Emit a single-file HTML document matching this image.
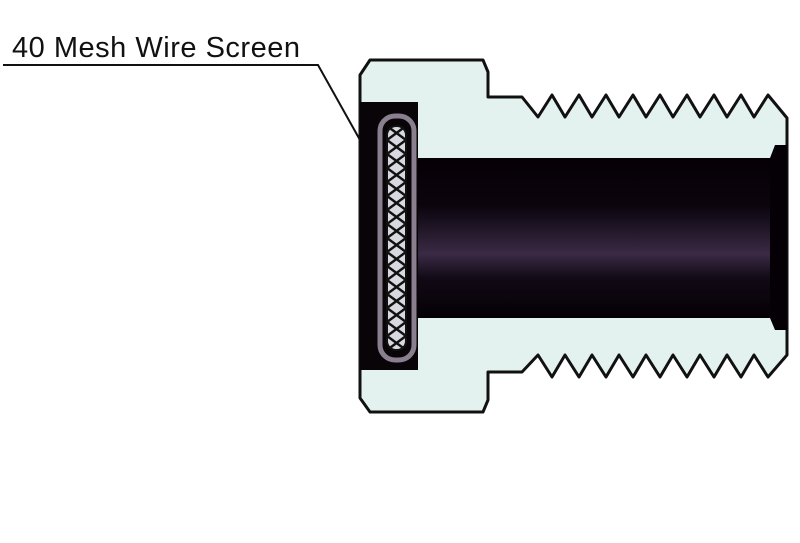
<!DOCTYPE html>
<html><head><style>html,body{margin:0;padding:0;background:#fff}svg{display:block}</style></head>
<body>
<svg width="800" height="543" viewBox="0 0 800 543" xmlns="http://www.w3.org/2000/svg">
<defs>
<linearGradient id="bore" x1="0" y1="0" x2="0" y2="1">
<stop offset="0" stop-color="#050005"/>
<stop offset="0.3" stop-color="#0b040d"/>
<stop offset="0.6" stop-color="#3a2a45"/>
<stop offset="0.75" stop-color="#120a16"/>
<stop offset="1" stop-color="#040004"/>
</linearGradient>
<pattern id="mesh" width="19" height="14" patternUnits="userSpaceOnUse" x="387" y="126">
<rect width="19" height="14" fill="#d8d8e0"/>
<path d="M0 0L19 14M19 0L0 14" stroke="#111" stroke-width="2.5"/>
</pattern>
</defs>
<text x="12" y="57" font-family="Liberation Sans, sans-serif" font-size="29" fill="#111" textLength="288">40 Mesh Wire Screen</text>
<polyline points="3,65 318,65 360,140" fill="none" stroke="#111" stroke-width="2"/>
<path fill="#e4f2ef" stroke="#111" stroke-width="3" stroke-linejoin="round" d="
M370,60 L483,60 L488,72 L488,97 L522,97 L538,117
L552,95 L565,117 L579,95 L592,117 L606,95 L619,117 L633,95 L646,117 L660,95 L673,117 L687,95 L700,117 L714,95 L727,117 L741,95 L754,117 L768,95 L787,118
L787,355
L768,377 L754,355 L741,377 L727,355 L714,377 L700,355 L687,377 L673,355 L660,377 L646,355 L633,377 L619,355 L606,377 L592,355 L579,377 L565,355 L552,377 L538,355
L522,372 L488,372 L488,400 L483,412 L370,412 L360,398 L360,75 Z"/>
<rect x="360" y="102" width="58" height="268" fill="#080408"/>
<rect x="418" y="158" width="369" height="160" fill="url(#bore)"/>
<polygon points="775,145 787,145 787,330 775,330 770,318 770,158" fill="#050005"/>
<rect x="380" y="116" width="34" height="244" rx="15" fill="none" stroke="#8a7f8e" stroke-width="5"/>
<rect x="387" y="126" width="19" height="224" rx="9" fill="url(#mesh)" stroke="#111" stroke-width="2"/>
</svg>
</body></html>
